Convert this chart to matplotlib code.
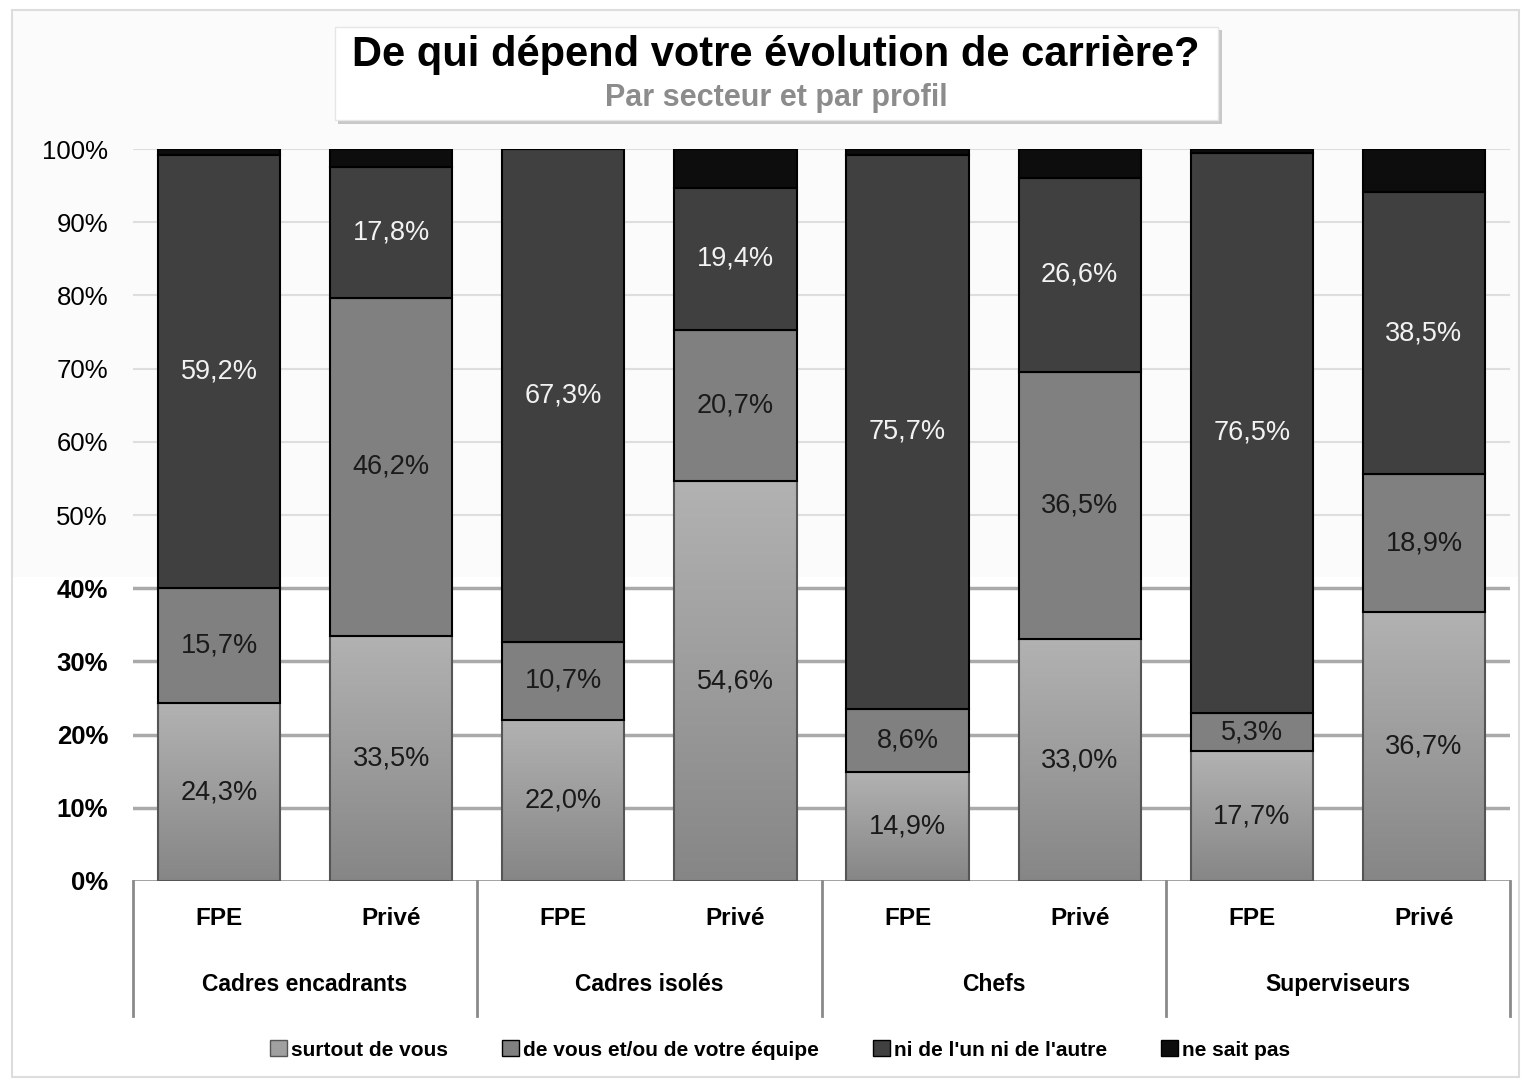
import numpy as np
import matplotlib.pyplot as plt
from matplotlib.patches import Rectangle
from matplotlib.colors import LinearSegmentedColormap

plt.rcParams['font.family'] = ['Liberation Sans', 'DejaVu Sans']

# Data
groups = ['Cadres encadrants', 'Cadres isolés', 'Chefs', 'Superviseurs']
secteurs = ['FPE', 'Privé']
series = ['surtout de vous', 'de vous et/ou de votre équipe',
          "ni de l'un ni de l'autre", 'ne sait pas']

surtout = [24.3, 33.5, 22.0, 54.6, 14.9, 33.0, 17.7, 36.7]
equipe = [15.7, 46.2, 10.7, 20.7, 8.6, 36.5, 5.3, 18.9]
ni_lun = [59.2, 17.8, 67.3, 19.4, 75.7, 26.6, 76.5, 38.5]
nsp = [0.8, 2.5, 0.0, 5.3, 0.8, 3.9, 0.5, 5.9]

W, H = 1521, 1079
fig = plt.figure(figsize=(W / 100, H / 100), dpi=100)
fig.patch.set_facecolor('white')

# background panels / frame (pixel coords -> figure coords)
def fr(x0, y0, x1, y1, **kw):
    return Rectangle((x0 / W, 1 - y1 / H), (x1 - x0) / W, (y1 - y0) / H,
                     transform=fig.transFigure, **kw)

fig.patches.append(fr(12, 10, 1519, 577, facecolor='#fbfbfb', edgecolor='none', zorder=-5))
fig.patches.append(fr(12, 10, 1519, 1077, facecolor='none', edgecolor='#dddddd', lw=1.5, zorder=-4))
# title box with shadow
fig.patches.append(fr(338, 30, 1222, 124, facecolor='#c8c8c8', edgecolor='none', zorder=2))
fig.patches.append(fr(335, 27, 1218, 120, facecolor='white', edgecolor='#e6e6e6', lw=1, zorder=3))
fig.text(776 / W, 1 - 55 / H, 'De qui dépend votre évolution de carrière?',
         ha='center', va='center', fontsize=30, fontweight='bold', color='black', zorder=4)
fig.text(776 / W, 1 - 98 / H, 'Par secteur et par profil',
         ha='center', va='center', fontsize=22, fontweight='bold', color='#8c8c8c', zorder=4)

ax = fig.add_axes([133 / W, 1 - 881 / H, (1510 - 133) / W, (881 - 149) / H])
ax.set_facecolor('none')

x = np.arange(len(surtout))
width = 0.71

# gridlines (lower part darker, as in the reference)
for t in range(10, 101, 10):
    if t <= 40:
        ax.axhline(t, color='#aaaaaa', lw=2.5, zorder=0)
    else:
        ax.axhline(t, color='#dedede', lw=1.5, zorder=0)
ax.axhline(0, color='#999999', lw=2, zorder=1)

b1 = ax.bar(x, surtout, width, facecolor='none', edgecolor='#555555', lw=1.5, zorder=3)
bottom2 = np.array(surtout)
b2 = ax.bar(x, equipe, width, bottom=bottom2, color='#808080', edgecolor='black', lw=1.5, zorder=3)
bottom3 = bottom2 + np.array(equipe)
b3 = ax.bar(x, ni_lun, width, bottom=bottom3, color='#404040', edgecolor='black', lw=1.5, zorder=3)
bottom4 = bottom3 + np.array(ni_lun)
b4 = ax.bar(x, nsp, width, bottom=bottom4, color='#0d0d0d', edgecolor='black', lw=1.5, zorder=3)

# gradient fill for the first series
cmap = LinearSegmentedColormap.from_list('g', ['#868686', '#b2b2b2'])
grad = np.linspace(0, 1, 256).reshape(-1, 1)
for p in b1.patches:
    x0, y0 = p.get_x(), p.get_y()
    im = ax.imshow(grad, extent=[x0, x0 + p.get_width(), y0, y0 + p.get_height()],
                   origin='lower', aspect='auto', cmap=cmap, zorder=2)
    im.set_clip_path(p)

ax.set_xlim(-0.5, len(x) - 0.5)
ax.set_ylim(0, 100)

def fmt(v):
    return f'{v:.1f}%'.replace('.', ',')

for i in x:
    ax.text(i, surtout[i] / 2, fmt(surtout[i]), ha='center', va='center',
            fontsize=19.5, color='#1a1a1a', zorder=5)
    ax.text(i, bottom2[i] + equipe[i] / 2, fmt(equipe[i]), ha='center', va='center',
            fontsize=19.5, color='#1a1a1a', zorder=5)
    ax.text(i, bottom3[i] + ni_lun[i] / 2, fmt(ni_lun[i]), ha='center', va='center',
            fontsize=19.5, color='#f2f2f2', zorder=5)

# y axis
ticks = list(range(0, 101, 10))
ax.set_yticks(ticks)
ax.set_yticklabels([f'{t}%' for t in ticks], fontsize=18.5)
for t, lab in zip(ticks, ax.get_yticklabels()):
    if t <= 40:
        lab.set_fontweight('bold')
ax.tick_params(axis='y', length=0, pad=18)
ax.set_xticks([])
for s in ax.spines.values():
    s.set_visible(False)

# two-level category axis
tr = ax.get_xaxis_transform()
for i in x:
    ax.text(i, -0.051, secteurs[i % 2], transform=tr, ha='center', va='center',
            fontsize=17.5, fontweight='bold')
for g, name in enumerate(groups):
    ax.text(2 * g + 0.5, -0.142, name, transform=tr, ha='center', va='center',
            fontsize=16.5, fontweight='bold')
for xx in np.arange(-0.5, len(x), 2):
    ax.plot([xx, xx], [0, -0.184], transform=tr, color='#8a8a8a', lw=2, clip_on=False)

# legend
handles = [Rectangle((0, 0), 1, 1, facecolor='#a0a0a0', edgecolor='#555555'),
           Rectangle((0, 0), 1, 1, facecolor='#808080', edgecolor='black'),
           Rectangle((0, 0), 1, 1, facecolor='#404040', edgecolor='black'),
           Rectangle((0, 0), 1, 1, facecolor='#0d0d0d', edgecolor='black')]
fig.legend(handles, series, loc='center', bbox_to_anchor=(0.513, 1 - 1050 / H), ncol=4,
           frameon=False, prop={'weight': 'bold', 'size': 15}, handlelength=0.8,
           handleheight=0.8, handletextpad=0.2, columnspacing=2.6)

fig.savefig('out.png', dpi=100)
